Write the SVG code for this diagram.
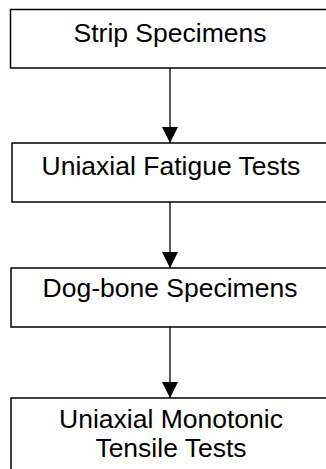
<svg xmlns="http://www.w3.org/2000/svg" width="326" height="469" viewBox="0 0 326 469">
<style>
.box{fill:#fff;stroke:#000;stroke-width:1.5}
.t{font-family:"Liberation Sans",Arial,sans-serif;font-size:26.5px;fill:#000;text-anchor:middle}
.c{stroke:#000;stroke-width:1.3;fill:none}
</style>
<defs>
<marker id="ah" markerUnits="userSpaceOnUse" markerWidth="16" markerHeight="16" refX="15" refY="7.5" orient="auto" viewBox="0 0 15 15">
<path d="M0,0 L15,7.5 L0,15 Z" fill="#000"/>
</marker>
</defs>
<rect width="326" height="469" fill="#fff"/>
<g id="connectors">
<line class="c" x1="170" y1="68" x2="170" y2="143" marker-end="url(#ah)"/>
<line class="c" x1="170" y1="202" x2="170" y2="268" marker-end="url(#ah)"/>
<line class="c" x1="170" y1="327" x2="170" y2="398" marker-end="url(#ah)"/>
</g>
<g id="n1">
<rect class="box" x="10.5" y="9.5" width="330" height="58.5"/>
<text class="t" x="170" y="42">Strip Specimens</text>
</g>
<g id="n2">
<rect class="box" x="12" y="143" width="330" height="59"/>
<text class="t" x="171" y="175">Uniaxial Fatigue Tests</text>
</g>
<g id="n3">
<rect class="box" x="11" y="268" width="330" height="59"/>
<text class="t" x="170" y="297">Dog-bone Specimens</text>
</g>
<g id="n4">
<rect class="box" x="11" y="398" width="330" height="90"/>
<text class="t" x="171" y="428">Uniaxial Monotonic</text>
<text class="t" x="171" y="457">Tensile Tests</text>
</g>
</svg>
